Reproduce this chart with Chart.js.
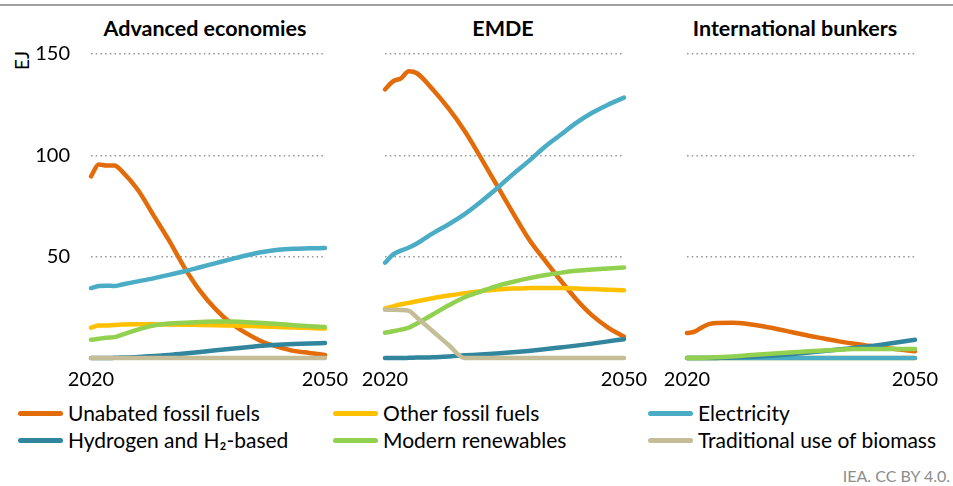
<!DOCTYPE html>
<html>
<head>
<meta charset="utf-8">
<script src="https://cdn.jsdelivr.net/npm/chart.js@4/dist/chart.umd.min.js"></script>
<style>
  body { margin: 0; background: #fff; font-family: Lato, "Open Sans", sans-serif; }
  #wrap { position: relative; width: 953px; height: 486px; overflow: hidden; }
  .panel { position: absolute; top: 0; height: 400px; }
  .rule { position: absolute; left: 0; top: 4px; width: 953px; height: 2px; background: #a0a0a0; }
  .title { position: absolute; top: 15px; font-weight: bold; font-size: 21.5px; line-height: 26px; color: #000; transform: translateX(-50%); white-space: nowrap; }
  .unit { position: absolute; left: 12px; top: 70px; font-size: 19px; line-height: 20px; transform: rotate(-90deg); transform-origin: left top; }
  .legend { position: absolute; font-size: 21px; color: #000; white-space: nowrap; }
  .legend span.sw { position: absolute; left: 0; top: 50%; width: 45px; height: 5px; margin-top: -2.5px; border-radius: 3px; }
  .legend span.tx { position: absolute; left: 50px; top: 0; line-height: 24px; }
  .source { position: absolute; right: 3px; top: 466px; font-size: 16px; color: #8c8c8c; }
</style>
</head>
<body>
<div id="wrap">
  <div class="rule"></div>
  <div class="title" style="left:205px">Advanced economies</div>
  <div class="title" style="left:503px">EMDE</div>
  <div class="title" style="left:795px">International bunkers</div>
  <div class="unit">EJ</div>
  <div class="panel" style="left:0;width:350px"><canvas id="c1"></canvas></div>
  <div class="panel" style="left:350px;width:300px"><canvas id="c2"></canvas></div>
  <div class="panel" style="left:650px;width:303px"><canvas id="c3"></canvas></div>
  <div id="legend"></div>
  <div class="source">IEA. CC BY 4.0.</div>
</div>
<script>
const years = [2020, 2021, 2022, 2023, 2024, 2026, 2028, 2030, 2032, 2034, 2036, 2038, 2040, 2042, 2044, 2046, 2048, 2050];
const seriesNames = ["Unabated fossil fuels", "Other fossil fuels", "Electricity", "Hydrogen and H\u2082-based", "Modern renewables", "Traditional use of biomass"];
const seriesColors = ["#e36c0a", "#ffc000", "#4bacc6", "#31859c", "#92d050", "#c4bd97"];
const yTicks = [0, 50, 100, 150];
const xTicks = [2020, 2050];

// Advanced economies
const advUnabated = [89.6, 95.5, 95, 95, 92, 83, 70.5, 58, 44.5, 33, 24, 17, 12, 8, 5.5, 3.5, 2.5, 1.5];
const advOther    = [15, 16, 16, 16.3, 16.5, 16.6, 16.6, 16.5, 16.4, 16.3, 16.2, 16, 15.8, 15.6, 15.3, 15, 14.8, 14.5];
const advElec     = [34.5, 35.5, 35.7, 35.5, 36.3, 37.8, 39.3, 41, 42.8, 44.8, 46.8, 48.8, 50.7, 52.3, 53.4, 53.9, 54.1, 54.3];
const advH2       = [0, 0, 0, 0.1, 0.2, 0.5, 1, 1.5, 2.2, 3, 3.8, 4.6, 5.3, 6, 6.5, 6.9, 7.2, 7.4];
const advRenew    = [9, 9.5, 10, 10.3, 11.5, 14, 16, 17, 17.4, 17.8, 18, 18, 17.7, 17.3, 16.8, 16.2, 15.7, 15.3];
const advBiomass  = [0, 0, 0, 0, 0, 0, 0, 0, 0, 0, 0, 0, 0, 0, 0, 0, 0, 0];

// EMDE
const emdeUnabated = [132.5, 136.5, 138, 141.5, 140.5, 132.5, 123, 112, 99, 85.5, 72, 59, 48.5, 38.5, 29, 21, 15, 10.5];
const emdeOther    = [24.5, 25.5, 26.5, 27.2, 28, 29.5, 30.8, 32, 33, 33.8, 34.3, 34.5, 34.6, 34.5, 34.3, 34, 33.7, 33.4];
const emdeElec     = [47, 51, 53, 54.5, 56.5, 61.5, 66, 71, 77, 83.5, 90.5, 97, 104, 110, 116, 121, 125, 128.5];
const emdeH2       = [0, 0, 0, 0.1, 0.2, 0.4, 0.8, 1.3, 1.7, 2.2, 2.8, 3.5, 4.3, 5.2, 6.1, 7.1, 8.2, 9.3];
const emdeRenew    = [12.5, 13.2, 14, 15, 17, 21.5, 26, 30, 32.8, 35.5, 37.5, 39.3, 40.8, 42, 43, 43.7, 44.2, 44.7];
const emdeBiomass  = [23.8, 23.8, 23.7, 23.3, 20, 13.2, 6.4, 0, 0, 0, 0, 0, 0, 0, 0, 0, 0, 0];

// International bunkers
const bunkUnabated = [12.3, 13, 15.2, 16.8, 17.3, 17.4, 16.8, 15.7, 14.2, 12.6, 11, 9.6, 8.2, 7, 6, 5, 4.2, 3.3];
const bunkOther    = [0, 0, 0, 0, 0, 0, 0, 0, 0, 0, 0, 0, 0, 0, 0, 0, 0, 0];
const bunkElec     = [0, 0, 0, 0, 0, 0, 0, 0, 0, 0, 0, 0, 0, 0, 0, 0, 0, 0];
const bunkH2       = [0, 0, 0, 0, 0.05, 0.2, 0.5, 0.9, 1.4, 2, 2.7, 3.4, 4.2, 5, 5.8, 6.8, 7.9, 9];
const bunkRenew    = [0, 0, 0.1, 0.2, 0.4, 0.8, 1.3, 1.8, 2.3, 2.8, 3.3, 3.7, 4.1, 4.4, 4.5, 4.5, 4.5, 4.4];
const bunkBiomass  = null;

const panels = [
  { id: "c1", axis: true,  pad: { left: 0,  right: 25 }, series: [advUnabated, advOther, advElec, advH2, advRenew, advBiomass] },
  { id: "c2", axis: false, pad: { left: 35, right: 26 }, series: [emdeUnabated, emdeOther, emdeElec, emdeH2, emdeRenew, emdeBiomass] },
  { id: "c3", axis: false, pad: { left: 37, right: 38 }, series: [bunkUnabated, bunkOther, bunkElec, bunkH2, bunkRenew, bunkBiomass] }
];

const tickFont = { family: "Lato", size: 20 };

panels.forEach(p => {
  const datasets = [];
  p.series.forEach((vals, i) => {
    if (!vals) return;
    datasets.push({
      label: seriesNames[i],
      data: years.map((y, k) => ({ x: y, y: vals[k] })),
      borderColor: seriesColors[i],
      borderWidth: 4.5,
      pointRadius: 0,
      cubicInterpolationMode: "monotone",
      borderCapStyle: "round",
      borderJoinStyle: "round",
      clip: false,
      order: 10 - i   // later series drawn on top
    });
  });

  new Chart(document.getElementById(p.id), {
    type: "line",
    data: { datasets },
    options: {
      responsive: true,
      maintainAspectRatio: false,
      animation: false,
      layout: { padding: { top: 54, bottom: 6, left: p.pad.left, right: p.pad.right } },
      plugins: { legend: { display: false }, tooltip: { enabled: false } },
      scales: {
        x: {
          type: "linear",
          min: 2020,
          max: 2050,
          afterBuildTicks: s => { s.ticks = xTicks.map(v => ({ value: v })); },
          afterFit: s => { s.height = 36; s.paddingLeft = 0; s.paddingRight = 0; },
          ticks: { font: tickFont, color: "#000", padding: 10, maxRotation: 0, callback: v => String(v) },
          grid: { display: false, drawTicks: false },
          border: { display: false }
        },
        y: {
          min: 0,
          max: 150,
          afterBuildTicks: s => { s.ticks = yTicks.map(v => ({ value: v })); },
          afterFit: s => { s.width = p.axis ? 91 : 0; s.paddingTop = 0; s.paddingBottom = 0; },
          ticks: { display: p.axis, font: tickFont, color: "#000", padding: 21, callback: v => v === 0 ? "" : String(v) },
          grid: {
            drawTicks: false,
            color: ctx => ctx.tick && ctx.tick.value === 0 ? "rgba(0,0,0,0)" : "#9a9a9a",
            lineWidth: 1.6
          },
          border: { display: false, dash: [1.6, 3.1] }
        }
      }
    }
  });
});

// legend
const legendPos = [
  { left: 18,  top: 401 }, { left: 333, top: 401 }, { left: 648, top: 401 },
  { left: 18,  top: 428 }, { left: 333, top: 428 }, { left: 648, top: 428 }
];
const legendEl = document.getElementById("legend");
seriesNames.forEach((name, i) => {
  const d = document.createElement("div");
  d.className = "legend";
  d.style.left = legendPos[i].left + "px";
  d.style.top = legendPos[i].top + "px";
  d.style.height = "24px";
  d.style.width = "300px";
  d.innerHTML = '<span class="sw" style="background:' + seriesColors[i] + '"></span><span class="tx">' + name + '</span>';
  legendEl.appendChild(d);
});
</script>
</body>
</html>
